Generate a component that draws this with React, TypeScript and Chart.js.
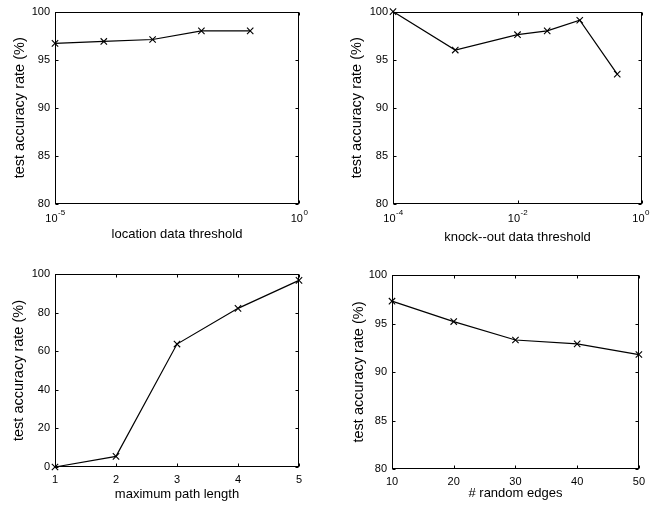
import React, { useEffect, useRef } from 'react';
import { Chart, registerables } from 'chart.js';

Chart.register(...registerables);

const FONT = "'Liberation Sans', Arial, Helvetica, sans-serif";

// ---- data ----
const locationThresholds = [1e-5, 1e-4, 1e-3, 1e-2, 1e-1];
const locationAccuracy = [96.7, 96.9, 97.1, 98.0, 98.0];

const knockoutThresholds = [1e-4, 1e-3, 1e-2, 0.03, 0.1, 0.4];
const knockoutAccuracy = [100, 96.0, 97.6, 98.0, 99.1, 93.5];

const pathLengths = [1, 2, 3, 4, 5];
const pathAccuracy = [0, 5.5, 63.7, 82.2, 96.7];

const randomEdges = [10, 20, 30, 40, 50];
const edgeAccuracy = [97.3, 95.2, 93.3, 92.9, 91.8];

const locationTicks = [1e-5, 1];
const knockoutTicks = [1e-4, 1e-2, 1];
const pathTicks = [1, 2, 3, 4, 5];
const edgeTicks = [10, 20, 30, 40, 50];
const accTicksHigh = [80, 85, 90, 95, 100];
const accTicksFull = [0, 20, 40, 60, 80, 100];

const Y_TITLE = 'test accuracy rate (%)';

type Panel = {
  left: number; top: number; width: number; height: number;
  padTop: number; padRight: number;
  yWidth: number; xHeight: number;
  xType: 'linear' | 'logarithmic';
  xMin: number; xMax: number; xTicks: number[];
  yMin: number; yMax: number; yTicks: number[];
  xs: number[]; ys: number[];
  xTitle: string; xTitlePad: number; yTitlePad: number; xTickPad: number;
};

const panels: Panel[] = [
  {
    left: 0, top: 0, width: 325, height: 250, padTop: 10, padRight: 26,
    yWidth: 55, xHeight: 46, xType: 'logarithmic',
    xMin: 1e-5, xMax: 1, xTicks: locationTicks,
    yMin: 80, yMax: 100, yTicks: accTicksHigh,
    xs: locationThresholds, ys: locationAccuracy,
    xTitle: 'location data threshold', xTitlePad: 8, yTitlePad: 11, xTickPad: 4,
  },
  {
    left: 325, top: 0, width: 326, height: 250, padTop: 11, padRight: 9,
    yWidth: 68, xHeight: 46, xType: 'logarithmic',
    xMin: 1e-4, xMax: 1, xTicks: knockoutTicks,
    yMin: 80, yMax: 100, yTicks: accTicksHigh,
    xs: knockoutThresholds, ys: knockoutAccuracy,
    xTitle: 'knock--out data threshold', xTitlePad: 5, yTitlePad: 23, xTickPad: 4,
  },
  {
    left: 0, top: 250, width: 325, height: 256, padTop: 24, padRight: 26,
    yWidth: 55, xHeight: 39, xType: 'linear',
    xMin: 1, xMax: 5, xTicks: pathTicks,
    yMin: 0, yMax: 100, yTicks: accTicksFull,
    xs: pathLengths, ys: pathAccuracy,
    xTitle: 'maximum path length', xTitlePad: 4, yTitlePad: 10, xTickPad: 6,
  },
  {
    left: 325, top: 250, width: 326, height: 256, padTop: 25, padRight: 9,
    yWidth: 67, xHeight: 37, xType: 'linear',
    xMin: 10, xMax: 50, xTicks: edgeTicks,
    yMin: 80, yMax: 100, yTicks: accTicksHigh,
    xs: randomEdges, ys: edgeAccuracy,
    xTitle: '# random edges', xTitlePad: 5, yTitlePad: 25, xTickPad: 6,
  },
];

function makeFramePlugin(isLog: boolean) {
  return {
    id: 'matlabFrame',
    beforeDatasetsDraw(chart: any) {
      const { ctx, chartArea: a, scales } = chart;
      ctx.save();
      ctx.strokeStyle = '#000';
      ctx.lineWidth = 1;
      const L = Math.round(a.left) + 0.5;
      const R = Math.round(a.right) - 0.5;
      const T = Math.round(a.top) + 0.5;
      const B = Math.round(a.bottom) - 0.5;
      ctx.strokeRect(L, T, R - L, B - T);
      const tl = 3;
      ctx.beginPath();
      for (const t of scales.x.ticks) {
        const px = Math.round(scales.x.getPixelForValue(t.value)) + 0.5;
        ctx.moveTo(px, B); ctx.lineTo(px, B - tl);
        ctx.moveTo(px, T); ctx.lineTo(px, T + tl);
      }
      for (const t of scales.y.ticks) {
        const py = Math.round(scales.y.getPixelForValue(t.value)) + 0.5;
        ctx.moveTo(L, py); ctx.lineTo(L + tl, py);
        ctx.moveTo(R, py); ctx.lineTo(R - tl, py);
      }
      ctx.stroke();
      ctx.restore();
    },
    afterDraw(chart: any) {
      if (!isLog) return;
      const { ctx, chartArea: a, scales } = chart;
      ctx.save();
      ctx.fillStyle = '#000';
      ctx.textBaseline = 'middle';
      ctx.textAlign = 'left';
      for (const t of scales.x.ticks) {
        const px = scales.x.getPixelForValue(t.value);
        const exp = String(Math.round(Math.log10(t.value)));
        ctx.font = `11px ${FONT}`;
        const bw = ctx.measureText('10').width;
        ctx.font = `8px ${FONT}`;
        const ew = ctx.measureText(exp).width;
        let x0 = px - (bw + ew) / 2;
        x0 = Math.min(x0, chart.width - (bw + ew) - 2);
        ctx.font = `11px ${FONT}`;
        ctx.fillText('10', x0, a.bottom + 15);
        ctx.font = `8px ${FONT}`;
        ctx.fillText(exp, x0 + bw + 0.5, a.bottom + 8.5);
      }
      ctx.restore();
    },
  };
}

function PanelChart({ p }: { p: Panel }) {
  const ref = useRef<HTMLCanvasElement | null>(null);
  useEffect(() => {
    if (!ref.current) return;
    const isLog = p.xType === 'logarithmic';
    const chart = new Chart(ref.current, {
      type: 'line',
      data: {
        datasets: [
          {
            data: p.xs.map((x, i) => ({ x, y: p.ys[i] })),
            borderColor: '#000',
            borderWidth: 1.2,
            pointStyle: 'crossRot',
            pointRadius: 4.5,
            pointBorderColor: '#000',
            pointBackgroundColor: '#000',
            pointBorderWidth: 1.1,
            fill: false,
            tension: 0,
            clip: false as any,
          },
        ],
      },
      options: {
        animation: false,
        responsive: false,
        events: [],
        layout: { padding: { top: p.padTop, right: p.padRight, bottom: 0, left: 0 } },
        plugins: { legend: { display: false }, tooltip: { enabled: false } },
        scales: {
          x: {
            type: p.xType,
            min: p.xMin,
            max: p.xMax,
            afterBuildTicks: (axis: any) => {
              axis.ticks = p.xTicks.map((v) => ({ value: v }));
            },
            afterFit: (axis: any) => { axis.height = p.xHeight; },
            grid: { display: false, drawTicks: false },
            border: { display: false },
            ticks: {
              display: !isLog,
              autoSkip: false,
              maxRotation: 0,
              padding: p.xTickPad,
              color: '#000',
              font: { family: FONT, size: 11 },
            },
            title: {
              display: true,
              text: p.xTitle,
              color: '#000',
              font: { family: FONT, size: 13 },
              padding: { top: 0, bottom: p.xTitlePad },
            },
          } as any,
          y: {
            type: 'linear',
            min: p.yMin,
            max: p.yMax,
            afterBuildTicks: (axis: any) => {
              axis.ticks = p.yTicks.map((v) => ({ value: v }));
            },
            afterFit: (axis: any) => { axis.width = p.yWidth; },
            grid: { display: false, drawTicks: false },
            border: { display: false },
            ticks: {
              padding: 5,
              color: '#000',
              font: { family: FONT, size: 11 },
            },
            title: {
              display: true,
              text: Y_TITLE,
              color: '#000',
              font: { family: FONT, size: 14.5 },
              padding: { top: p.yTitlePad, bottom: 0 },
            },
          } as any,
        },
      },
      plugins: [makeFramePlugin(isLog)],
    });
    return () => chart.destroy();
  }, [p]);
  return (
    <canvas
      ref={ref}
      width={p.width}
      height={p.height}
      style={{
        position: 'absolute',
        left: p.left,
        top: p.top,
        width: p.width,
        height: p.height,
        display: 'block',
      }}
    />
  );
}

export default function App() {
  return (
    <div
      style={{
        position: 'fixed',
        left: 0,
        top: 0,
        width: 651,
        height: 506,
        background: '#fff',
        overflow: 'hidden',
      }}
    >
      {panels.map((p, i) => (
        <PanelChart key={i} p={p} />
      ))}
    </div>
  );
}
